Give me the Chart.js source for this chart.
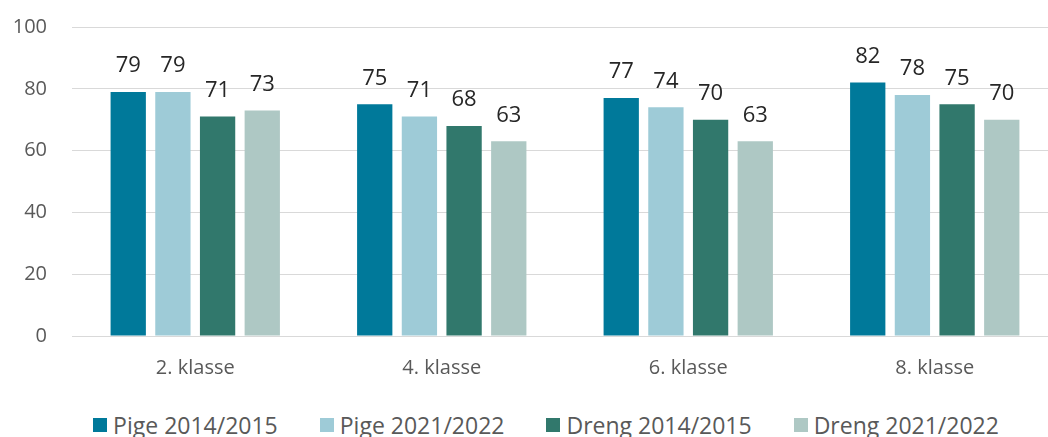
<!DOCTYPE html>
<html lang="da">
<head>
<meta charset="UTF-8">
<title>Klasser</title>
<script src="https://cdn.jsdelivr.net/npm/chart.js@4"></script>
<style>
  html, body { margin: 0; padding: 0; background: #ffffff; overflow: hidden; }
  .wrap { position: relative; width: 1058px; height: 400px; }
  .legend {
    list-style: none; margin: 0; padding: 0; width: 1048px; height: 50px;
    display: flex; justify-content: center; align-items: center; gap: 42px;
    font-family: "Open Sans", sans-serif; font-size: 23px; color: #595959;
    transform: translateX(22px);
  }
  .legend li { display: flex; align-items: center; white-space: nowrap; }
  .legend li div { width: 14px; height: 14px; margin-right: 6px; }
</style>
</head>
<body>
<div class="wrap"><canvas id="js-bar-chart"></canvas></div>
<ul class="legend" id="js-legends"></ul>
<script>
"use strict";

const categories = ["2. klasse", "4. klasse", "6. klasse", "8. klasse"];
const seriesNames = ["Pige 2014/2015", "Pige 2021/2022", "Dreng 2014/2015", "Dreng 2021/2022"];
const pige2014 = [79, 75, 77, 82];
const pige2021 = [79, 71, 74, 78];
const dreng2014 = [71, 68, 70, 75];
const dreng2021 = [73, 63, 63, 70];
const yTicks = [0, 20, 40, 60, 80, 100];
const bgColors = ["#00799a", "#9ecbd7", "#31786c", "#aec8c4"];

{
  const seriesValues = [pige2014, pige2021, dreng2014, dreng2021];

  // værdier over søjlerne
  const barValueLabels = {
    id: "barValueLabels",
    afterDatasetsDraw(chart) {
      const ctx = chart.ctx;
      ctx.save();
      ctx.font = '22px "Open Sans", sans-serif';
      ctx.fillStyle = "#262626";
      ctx.textAlign = "center";
      ctx.textBaseline = "middle";
      chart.data.datasets.forEach((ds, i) => {
        chart.getDatasetMeta(i).data.forEach((bar, j) => {
          ctx.fillText(ds.data[j], bar.x, bar.y - 26);
        });
      });
      ctx.restore();
    },
  };

  const bar_ctx = document.getElementById("js-bar-chart").getContext("2d");
  const barChart = new Chart(bar_ctx, {
    type: "bar",
    data: {
      labels: categories,
      datasets: seriesValues.map((values, i) => {
        return {
          label: seriesNames[i],
          data: values,
          backgroundColor: bgColors[i],
          categoryPercentage: 0.725,
          barPercentage: 0.79,
        };
      }),
    },
    options: {
      responsive: true,
      maintainAspectRatio: false,
      animation: false,
      layout: {
        padding: { top: 27, right: 0, left: 0, bottom: 0 },
      },
      scales: {
        x: {
          grid: { display: false, drawTicks: false },
          border: { display: false },
          ticks: {
            padding: 20,
            color: "#595959",
            font: { family: "Open Sans", size: 20 },
          },
          afterFit: function (scale) {
            scale.height = 64;
          },
        },
        y: {
          min: 0,
          max: 100,
          afterBuildTicks: function (scale) {
            scale.ticks = yTicks.map((v) => ({ value: v }));
          },
          grid: { color: "#d9d9d9", lineWidth: 1, drawTicks: false },
          border: { display: false },
          ticks: {
            padding: 25,
            color: "#595959",
            font: { family: "Open Sans", size: 20 },
          },
          afterFit: function (scale) {
            scale.width = 72;
            scale.paddingTop = 0;
            scale.paddingBottom = 0;
          },
        },
      },
      plugins: {
        legend: { display: false },
        tooltip: { enabled: false },
      },
    },
    plugins: [barValueLabels],
  });

  function createLegend(names, appendArea) {
    for (let i = 0; i < names.length; i++) {
      const li = document.createElement("li");
      li.innerHTML = `<div style="background-color:${bgColors[i]}"></div><span>${names[i]}</span>`;
      appendArea.appendChild(li);
    }
  } //legend

  createLegend(seriesNames, document.getElementById("js-legends"));
}
</script>
</body>
</html>
